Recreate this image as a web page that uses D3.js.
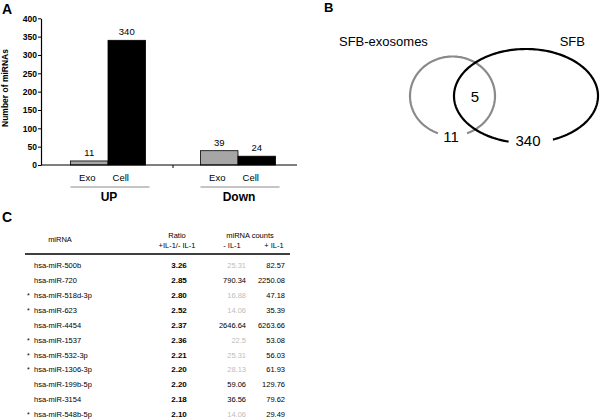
<!DOCTYPE html>
<html><head><meta charset="utf-8">
<script src="https://cdn.jsdelivr.net/npm/d3@7"></script>
<style>body{margin:0;background:#fff;} svg{display:block;font-family:"Liberation Sans",Arial,sans-serif;}</style>
</head><body>
<svg id="c" width="600" height="420"></svg>
<script>
// ---- Panel A data ----
const groups = ["UP", "Down"];
const subCats = ["Exo", "Cell"];
const upValues = [11, 340];
const downValues = [39, 24];
const yTicks = [0, 50, 100, 150, 200, 250, 300, 350, 400];
const yLabel = "Number of miRNAs";

// ---- Panel B data ----
const vennLabels = ["SFB-exosomes", "SFB"];
const vennOnlyExo = 11;
const vennOnlySFB = 340;
const vennShared = 5;

// ---- Panel C data ----
const tableHeaders = ["miRNA", "Ratio", "+IL-1/- IL-1", "miRNA counts", "- IL-1", "+ IL-1"];
const mirNames = ["hsa-miR-500b","hsa-miR-720","hsa-miR-518d-3p","hsa-miR-623","hsa-miR-4454","hsa-miR-1537","hsa-miR-532-3p","hsa-miR-1306-3p","hsa-miR-199b-5p","hsa-miR-3154","hsa-miR-548b-5p"];
const starred = [false,false,true,true,false,true,true,true,false,false,true];
const ratios = ["3.26","2.85","2.80","2.52","2.37","2.36","2.21","2.20","2.20","2.18","2.10"];
const minusIL1 = ["25.31","790.34","16.88","14.06","2646.64","22.5","25.31","28.13","59.06","36.56","14.06"];
const minusGray = [true,false,true,true,false,true,true,true,false,false,true];
const plusIL1 = ["82.57","2250.08","47.18","35.39","6263.66","53.08","56.03","61.93","129.76","79.62","29.49"];

const svg = d3.select("#c");

// ================= Panel A =================
const A = svg.append("g");
A.append("text").attr("x", 2).attr("y", 14).attr("font-size", 14).attr("font-weight", "bold").text("A");

const y = d3.scaleLinear().domain([0, 400]).range([165, 18.3]);
const xG = d3.scaleBand().domain(groups).range([43, 303]);
const xS = d3.scaleBand().domain(subCats)
  .range([xG.bandwidth() / 2 - 37.5, xG.bandwidth() / 2 + 37.5]);
const barData = groups.flatMap((g, gi) => subCats.map((s, si) => ({g, s, v: (gi === 0 ? upValues : downValues)[si]})));

A.selectAll("rect.bar").data(barData).join("rect")
  .attr("x", d => xG(d.g) + xS(d.s))
  .attr("y", d => y(d.v))
  .attr("width", xS.bandwidth())
  .attr("height", d => y(0) - y(d.v))
  .attr("fill", d => d.s === "Exo" ? "#a6a6a6" : "#000")
  .attr("stroke", "#000").attr("stroke-width", 0.8);

A.selectAll("text.val").data(barData).join("text")
  .attr("x", d => xG(d.g) + xS(d.s) + xS.bandwidth() / 2)
  .attr("y", d => y(d.v) - 5)
  .attr("text-anchor", "middle").attr("font-size", 9.5).text(d => d.v);

const yAxis = A.append("g").attr("transform", "translate(41,0)")
  .call(d3.axisLeft(y).tickValues(yTicks).tickSize(3).tickSizeOuter(0));
yAxis.select(".domain").attr("stroke", "#000").attr("stroke-width", 1.2);
yAxis.selectAll("text").attr("font-size", 8.5).attr("font-weight", "bold")
  .attr("font-family", "Liberation Sans, Arial, sans-serif").attr("x", -4);
A.append("line").attr("x1", 41).attr("x2", 297).attr("y1", y(0)).attr("y2", y(0))
  .attr("stroke", "#000").attr("stroke-width", 1.2);
A.append("line").attr("x1", xG("Down")).attr("x2", xG("Down")).attr("y1", y(0)).attr("y2", y(0) + 3)
  .attr("stroke", "#000").attr("stroke-width", 1);

A.append("text").attr("transform", "translate(8,88) rotate(-90)")
  .attr("text-anchor", "middle").attr("font-size", 8.5).attr("font-weight", "bold").text(yLabel);

// category labels
A.selectAll("text.sub").data(barData).join("text")
  .attr("x", d => xG(d.g) + xS(d.s) + xS.bandwidth() / 2 - (d.s === "Exo" ? 2 : 6))
  .attr("y", 181).attr("text-anchor", "middle").attr("font-size", 9.5).text(d => d.s);
groups.forEach(g => {
  A.append("line").attr("x1", xG(g) + xS("Exo")).attr("x2", xG(g) + xS("Cell") + xS.bandwidth() + 4)
    .attr("y1", 187).attr("y2", 187).attr("stroke", "#8c8c8c").attr("stroke-width", 1.2);
  A.append("text").attr("x", xG(g) + xG.bandwidth() / 2 + 1).attr("y", 201)
    .attr("text-anchor", "middle").attr("font-size", 12).attr("font-weight", "bold").text(g);
});

// ================= Panel B =================
const B = svg.append("g");
B.append("text").attr("x", 324).attr("y", 12).attr("font-size", 13).attr("font-weight", "bold").text("B");
B.append("text").attr("x", 339).attr("y", 46).attr("font-size", 13).text(vennLabels[0]);
B.append("text").attr("x", 585).attr("y", 46).attr("font-size", 13).attr("text-anchor", "end").text(vennLabels[1]);

function ellipseArc(cx, cy, rx, ry, a0, a1) {
  const pts = d3.range(0, 181).map(i => {
    const a = (a0 + (a1 - a0) * i / 180) * Math.PI / 180;
    return [cx + rx * Math.cos(a), cy + ry * Math.sin(a)];
  });
  return d3.line()(pts);
}
B.append("path").attr("d", ellipseArc(452.5, 96, 42.5, 39.5, 110, 430))
  .attr("fill", "none").attr("stroke", "#8a8a8a").attr("stroke-width", 2.2);
B.append("path").attr("d", ellipseArc(526, 96, 72, 47, 104, 428))
  .attr("fill", "none").attr("stroke", "#000").attr("stroke-width", 2.2);

B.append("text").attr("x", 475).attr("y", 102).attr("text-anchor", "middle").attr("font-size", 15).text(vennShared);
B.append("text").attr("x", 451).attr("y", 142).attr("text-anchor", "middle").attr("font-size", 15).text(vennOnlyExo);
B.append("text").attr("x", 528).attr("y", 146).attr("text-anchor", "middle").attr("font-size", 15).text(vennOnlySFB);

// ================= Panel C =================
const C = svg.append("g");
C.append("text").attr("x", 2).attr("y", 222).attr("font-size", 14).attr("font-weight", "bold").text("C");
const hs = 7.5;
C.append("text").attr("x", 60).attr("y", 242).attr("text-anchor", "middle").attr("font-size", hs).text(tableHeaders[0]);
C.append("text").attr("x", 177).attr("y", 238).attr("text-anchor", "middle").attr("font-size", hs).text(tableHeaders[1]);
C.append("text").attr("x", 177).attr("y", 248).attr("text-anchor", "middle").attr("font-size", hs).text(tableHeaders[2]);
C.append("text").attr("x", 250).attr("y", 238).attr("text-anchor", "middle").attr("font-size", hs).text(tableHeaders[3]);
C.append("text").attr("x", 232).attr("y", 248).attr("text-anchor", "middle").attr("font-size", hs).text(tableHeaders[4]);
C.append("text").attr("x", 274).attr("y", 248).attr("text-anchor", "middle").attr("font-size", hs).text(tableHeaders[5]);
C.append("line").attr("x1", 25).attr("x2", 290).attr("y1", 254).attr("y2", 254).attr("stroke", "#000").attr("stroke-width", 1.6);

const rowY = d3.scalePoint().domain(d3.range(mirNames.length)).range([265.7, 414.3]);
const rows = C.selectAll("g.row").data(mirNames).join("g")
  .attr("transform", (d, i) => `translate(0,${rowY(i) + 2.7})`);
rows.append("text").attr("x", 27).attr("font-size", 7).text((d, i) => starred[i] ? "*" : "");
rows.append("text").attr("x", 34).attr("font-size", hs).text(d => d);
rows.append("text").attr("x", 179).attr("text-anchor", "middle").attr("font-size", 8).attr("font-weight", "bold").text((d, i) => ratios[i]);
rows.append("text").attr("x", 246).attr("text-anchor", "end").attr("font-size", hs)
  .attr("fill", (d, i) => minusGray[i] ? "#bdbdbd" : "#000").text((d, i) => minusIL1[i]);
rows.append("text").attr("x", 285).attr("text-anchor", "end").attr("font-size", hs).text((d, i) => plusIL1[i]);
</script>
</body></html>
